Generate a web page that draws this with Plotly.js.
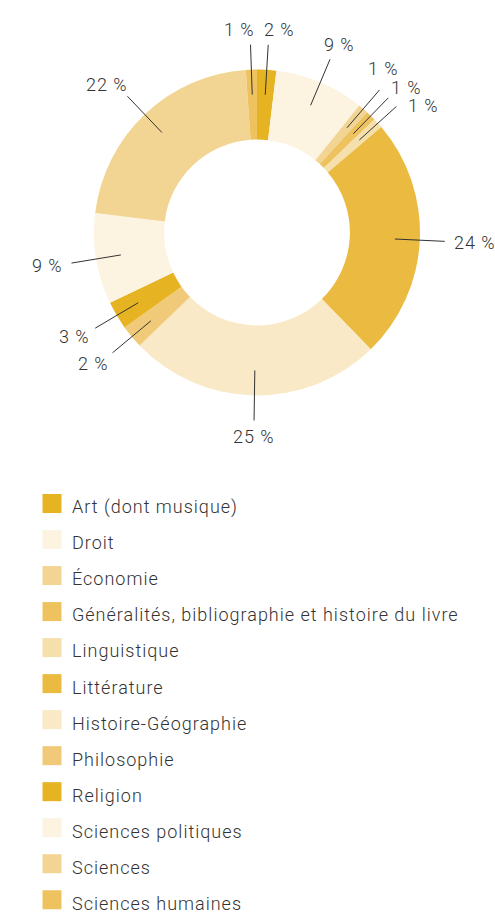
<!DOCTYPE html>
<html><head><meta charset="utf-8">
<script src="https://cdn.plot.ly/plotly-3.0.1.min.js"></script>
<style>html,body{margin:0;padding:0;background:#fff}#chart{width:495px;height:915px}</style>
</head><body><div id="chart"></div>
<script>
// ---- data ----
const categories = ["Art (dont musique)", "Droit", "Économie", "Généralités, bibliographie et histoire du livre", "Linguistique", "Littérature", "Histoire-Géographie", "Philosophie", "Religion", "Sciences politiques", "Sciences", "Sciences humaines"];
const shares = [1.9, 8.9, 1.0, 1.0, 1.0, 23.9, 25.1, 2.3, 2.8, 9.0, 22.0, 1.1];
const colors = ["#E6B323", "#FCF3E1", "#F3D593", "#EEC35F", "#F5DFAB", "#EBBA40", "#F9E9C6", "#F1CA79", "#E6B323", "#FCF3E1", "#F3D593", "#EEC35F"];

// ---- geometry / style ----
const W = 495, H = 915;
const CX = 257, CY = 232.5, R = 163, HOLE = 0.57;
const FONT = "Roboto, 'Liberation Sans', sans-serif";
const FS = 18, INK = "#333333", LS = 1;
const R1 = 138, R2 = 188, GAP = 9;

const domain = {x: [(CX - R) / W, (CX + R) / W], y: [1 - (CY + R) / H, 1 - (CY - R) / H]};
const total = shares.reduce((a, b) => a + b, 0);
let cum = 0;
const mids = shares.map(v => { const m = (cum + v / 2) / total * 2 * Math.PI; cum += v; return m; });
const texts = shares.map(v => Math.round(v / total * 100) + " %");

function textW(s) {
  let w = 0;
  for (const ch of s) w += (ch === " " ? 0.2476 : ch === "%" ? 0.7153 : 0.5615) * FS + LS;
  return w;
}
// label centre: end of the leader line pushed outwards by an elliptical offset
function centerAt(theta, w, h) {
  const s = Math.sin(theta), c = Math.cos(theta);
  return [CX + R2 * s + s * (w / 2 + GAP), CY - R2 * c - c * (h / 2 + GAP)];
}
const labs = texts.map((t, i) => ({t, theta: mids[i], w: textW(t), h: 14}));
const PADX = 10, PADY = 4, STEP = 0.2 * Math.PI / 180;
for (let it = 0; it < 800; it++) {
  let moved = false;
  for (let k = 0; k < labs.length; k++) {
    const a = labs[k], b = labs[(k + 1) % labs.length];
    const pa = centerAt(a.theta, a.w, a.h), pb = centerAt(b.theta, b.w, b.h);
    if (Math.abs(pa[0] - pb[0]) < (a.w + b.w) / 2 + PADX && Math.abs(pa[1] - pb[1]) < (a.h + b.h) / 2 + PADY) {
      a.theta -= STEP; b.theta += STEP; moved = true;
    }
  }
  if (!moved) break;
}

const shapes = mids.map(m => ({
  type: "line", xref: "paper", yref: "paper",
  x0: (CX + R1 * Math.sin(m)) / W, y0: 1 - (CY - R1 * Math.cos(m)) / H,
  x1: (CX + R2 * Math.sin(m)) / W, y1: 1 - (CY - R2 * Math.cos(m)) / H,
  line: {color: INK, width: 1}
}));
const annotations = labs.map(l => {
  const p = centerAt(l.theta, l.w, l.h);
  return {xref: "paper", yref: "paper", x: p[0] / W, y: 1 - p[1] / H,
    text: '<span style="letter-spacing:' + LS + 'px">' + l.t + '</span>', showarrow: false,
    xanchor: "center", yanchor: "middle", font: {family: FONT, size: FS, color: INK, weight: 300}};
});

const LEG_FS = 25.4;
const trace = {
  type: "pie",
  labels: categories.map(c => '<span style="font-size:' + FS + 'px;letter-spacing:' + LS + 'px">' + c + '</span>'),
  values: shares, sort: false, direction: "clockwise", rotation: 0, hole: HOLE,
  domain: domain, marker: {colors: colors, line: {width: 0}},
  textinfo: "none", hovertext: categories, hoverinfo: "text+percent"
};
const layout = {
  width: W, height: H, margin: {l: 0, r: 0, t: 0, b: 0, autoexpand: false},
  paper_bgcolor: "#fff", plot_bgcolor: "#fff",
  showlegend: true,
  legend: {x: 32 / W, xanchor: "left", y: 1 - 480.5 / H, yanchor: "top", traceorder: "normal",
    font: {family: FONT, size: LEG_FS, color: INK, weight: 300}, bgcolor: "rgba(0,0,0,0)"},
  shapes: shapes, annotations: annotations
};
const gd = document.getElementById("chart");
function bigSquares() {
  gd.querySelectorAll("path.legendpie").forEach(p => p.setAttribute("d", "M9.5,9.5H-9.5V-9.5H9.5Z"));
}
Plotly.newPlot(gd, [trace], layout, {displayModeBar: false, staticPlot: true}).then(() => {
  bigSquares();
  gd.on && gd.on("plotly_afterplot", bigSquares);
});
</script>
</body></html>
